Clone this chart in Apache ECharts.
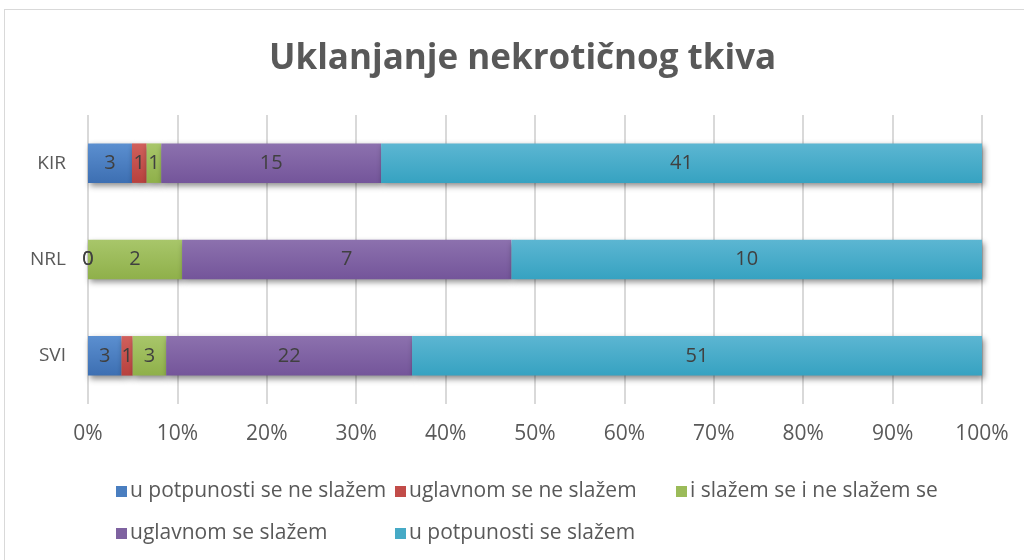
<!DOCTYPE html>
<html>
<head>
<meta charset="utf-8">
<script src="https://cdn.jsdelivr.net/npm/echarts@6/dist/echarts.min.js"></script>
<style>
  html, body { margin: 0; padding: 0; background: #fff; }
  #frame { position: absolute; left: 4px; top: 9px; width: 1040px; height: 580px; border: 1px solid #d9d9d9; box-sizing: border-box; }
  #chart { position: absolute; left: 0; top: 0; width: 1024px; height: 560px; }
</style>
</head>
<body>
<div id="frame"></div>
<div id="chart"></div>
<script>
// Groups, bottom to top on the category axis
const categories = ['SVI', 'NRL', 'KIR'];
const seriesNames = [
  'u potpunosti se ne slažem',
  'uglavnom se ne slažem',
  'i slažem se i ne slažem se',
  'uglavnom se slažem',
  'u potpunosti se slažem'
];
// Response counts per group (SVI, NRL, KIR)
const potpunoNe = [3, 0, 3];
const uglavnomNe = [1, 0, 1];
const niti = [3, 2, 1];
const uglavnomDa = [22, 7, 15];
const potpunoDa = [51, 10, 41];
const xTickLabels = ['0%', '10%', '20%', '30%', '40%', '50%', '60%', '70%', '80%', '90%', '100%'];

const counts = [potpunoNe, uglavnomNe, niti, uglavnomDa, potpunoDa];
const totals = categories.map((_, i) => counts.reduce((s, arr) => s + arr[i], 0));

const gradients = [
  ['#5b8fd0', '#3d6fb2'],
  ['#d0605c', '#b8413e'],
  ['#a8c66a', '#8fb04a'],
  ['#8c71ae', '#74559a'],
  ['#5cb6d2', '#36a2c1']
];
const legendColors = ['#4a7ec0', '#c24c49', '#9bbb59', '#7e62a0', '#46aac6'];

const FONT = '"Open Sans", sans-serif';

const series = counts.map((arr, k) => ({
  name: seriesNames[k],
  type: 'bar',
  stack: 'total',
  barWidth: '41%',
  data: arr.map((v, i) => ({ value: v / totals[i] * 100, count: v })),
  itemStyle: {
    color: new echarts.graphic.LinearGradient(0, 0, 0, 1, [
      { offset: 0, color: gradients[k][0] },
      { offset: 1, color: gradients[k][1] }
    ]),
    shadowColor: 'rgba(0,0,0,0.45)',
    shadowBlur: 6,
    shadowOffsetX: 2,
    shadowOffsetY: 3
  },
  label: {
    show: true,
    position: 'inside',
    color: '#404040',
    fontFamily: FONT,
    fontSize: 20,
    formatter: p => String(p.data.count)
  },
  z: 2
}));

// One legend block per entry so the entries sit in fixed columns
const legendPos = [
  { left: 111, top: 476 },
  { left: 390, top: 476 },
  { left: 671, top: 476 },
  { left: 111, top: 518 },
  { left: 390, top: 518 }
];
const legends = seriesNames.map((n, k) => ({
  data: [{ name: n, itemStyle: { color: legendColors[k] } }],
  left: legendPos[k].left,
  top: legendPos[k].top,
  icon: 'rect',
  itemWidth: 11,
  itemHeight: 11,
  itemGap: 0,
  textStyle: { color: '#595959', fontFamily: FONT, fontSize: 21, padding: [0, 0, 0, -2] },
  selectedMode: false
}));

const chart = echarts.init(document.getElementById('chart'));
chart.setOption({
  animation: false,
  title: {
    text: 'Uklanjanje nekrotičnog tkiva',
    left: 264,
    top: 37,
    textStyle: { color: '#595959', fontFamily: FONT, fontSize: 35, fontWeight: 'bold' }
  },
  legend: legends,
  grid: { left: 88, right: 42, top: 115, bottom: 156 },
  xAxis: {
    type: 'value',
    min: 0,
    max: 100,
    interval: 10,
    axisLine: { show: false },
    axisTick: { show: false },
    splitLine: { lineStyle: { color: '#d9d9d9', width: 2 } },
    axisLabel: {
      color: '#595959',
      fontFamily: FONT,
      fontSize: 21,
      margin: 20,
      formatter: v => xTickLabels[Math.round(v / 10)]
    }
  },
  yAxis: {
    type: 'category',
    data: categories,
    axisLine: { show: false },
    axisTick: { show: false },
    axisLabel: { color: '#595959', fontFamily: FONT, fontSize: 19, margin: 22 }
  },
  series: series
});
</script>
</body>
</html>
